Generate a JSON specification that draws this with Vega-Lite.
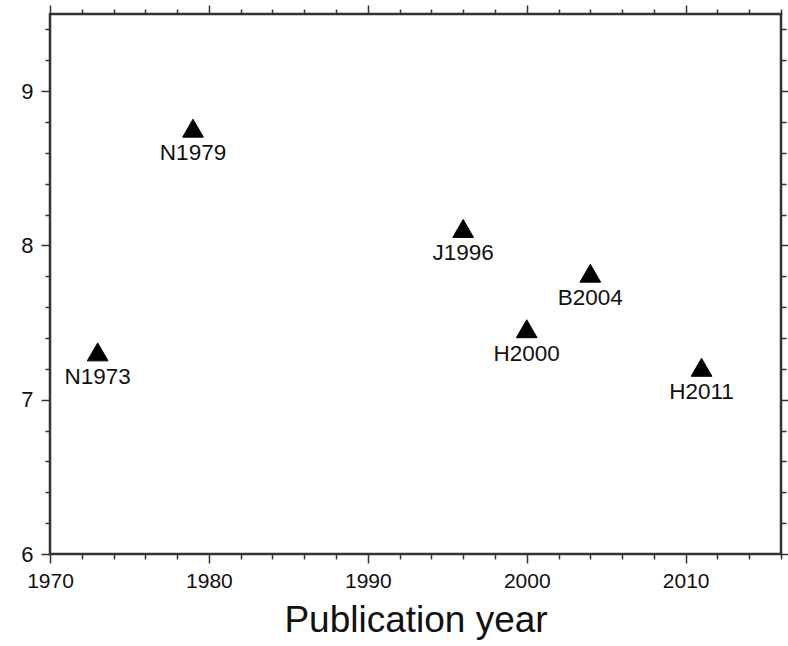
{
  "$schema": "https://vega.github.io/schema/vega-lite/v6.json",
  "width": 731,
  "height": 540,
  "autosize": {"type": "none"},
  "padding": {"left": 50, "top": 14, "right": 7, "bottom": 92},
  "background": "white",
  "config": {
    "font": "Liberation Sans",
    "view": {"stroke": "#333333", "strokeWidth": 2.5}
  },
  "data": {
    "values": [
      {"label": "N1973", "year": 1973, "mw": 7.31},
      {"label": "N1979", "year": 1979, "mw": 8.76},
      {"label": "J1996", "year": 1996, "mw": 8.11},
      {"label": "H2000", "year": 2000, "mw": 7.46},
      {"label": "B2004", "year": 2004, "mw": 7.82},
      {"label": "H2011", "year": 2011, "mw": 7.21}
    ]
  },
  "layer": [
    {
      "mark": {"type": "point", "shape": "triangle-up", "filled": true, "size": 430, "color": "black", "stroke": "black", "strokeWidth": 1, "opacity": 1},
      "encoding": {
        "x": {
          "field": "year", "type": "quantitative",
          "scale": {"domain": [1970, 2016], "nice": false, "zero": false},
          "axis": {
            "orient": "bottom",
            "values": [1970, 1972, 1974, 1976, 1978, 1980, 1982, 1984, 1986, 1988, 1990, 1992, 1994, 1996, 1998, 2000, 2002, 2004, 2006, 2008, 2010, 2012, 2014, 2016],
            "tickCount": 100,
            "labelExpr": "datum.value % 10 === 0 ? format(datum.value, 'd') : ''",
            "domain": false, "grid": false,
            "tickSize": 9, "tickWidth": 1.5, "tickColor": "#333333",
            "labelFontSize": 21, "labelColor": "#111111", "labelPadding": 7,
            "labelOverlap": false, "labelFlush": false,
            "title": "Publication year",
            "titleFontSize": 37, "titleFontWeight": "normal", "titleColor": "#111111", "titlePadding": 11,
            "encoding": {"ticks": {"y2": {"condition": {"test": "datum.value % 10 === 0", "value": 9}, "value": 5}}}
          }
        },
        "y": {
          "field": "mw", "type": "quantitative",
          "scale": {"domain": [6, 9.5], "nice": false, "zero": false},
          "axis": {
            "orient": "left",
            "values": [6, 6.2, 6.4, 6.6, 6.8, 7, 7.2, 7.4, 7.6, 7.8, 8, 8.2, 8.4, 8.6, 8.8, 9, 9.2, 9.4],
            "tickCount": 100,
            "labelExpr": "abs(datum.value - round(datum.value)) < 0.001 ? format(datum.value, 'd') : ''",
            "domain": false, "grid": false,
            "tickSize": 9, "tickWidth": 1.5, "tickColor": "#333333",
            "labelFontSize": 22, "labelColor": "#111111", "labelPadding": 8,
            "labelOverlap": false, "labelFlush": false,
            "title": null,
            "encoding": {"ticks": {"x2": {"condition": {"test": "abs(datum.value - round(datum.value)) < 0.001", "value": -9}, "value": -5}}}
          }
        }
      }
    },
    {
      "mark": {"type": "text", "fontSize": 22.5, "color": "#111111", "align": "center", "baseline": "middle", "dy": 25},
      "encoding": {
        "text": {"field": "label"},
        "x": {
          "field": "year", "type": "quantitative",
          "scale": {"domain": [1970, 2016], "nice": false, "zero": false},
          "axis": {
            "orient": "top",
            "values": [1970, 1972, 1974, 1976, 1978, 1980, 1982, 1984, 1986, 1988, 1990, 1992, 1994, 1996, 1998, 2000, 2002, 2004, 2006, 2008, 2010, 2012, 2014, 2016],
            "tickCount": 100,
            "labels": false, "domain": false, "grid": false, "title": null,
            "tickSize": 9, "tickWidth": 1.5, "tickColor": "#333333",
            "encoding": {"ticks": {"y2": {"condition": {"test": "datum.value % 10 === 0", "value": -9}, "value": -5}}}
          }
        },
        "y": {
          "field": "mw", "type": "quantitative",
          "scale": {"domain": [6, 9.5], "nice": false, "zero": false},
          "axis": {
            "orient": "right",
            "values": [6, 6.2, 6.4, 6.6, 6.8, 7, 7.2, 7.4, 7.6, 7.8, 8, 8.2, 8.4, 8.6, 8.8, 9, 9.2, 9.4],
            "tickCount": 100,
            "labels": false, "domain": false, "grid": false, "title": null,
            "tickSize": 9, "tickWidth": 1.5, "tickColor": "#333333",
            "encoding": {"ticks": {"x2": {"condition": {"test": "abs(datum.value - round(datum.value)) < 0.001", "value": 9}, "value": 5}}}
          }
        }
      }
    }
  ],
  "resolve": {"axis": {"x": "independent", "y": "independent"}}
}
